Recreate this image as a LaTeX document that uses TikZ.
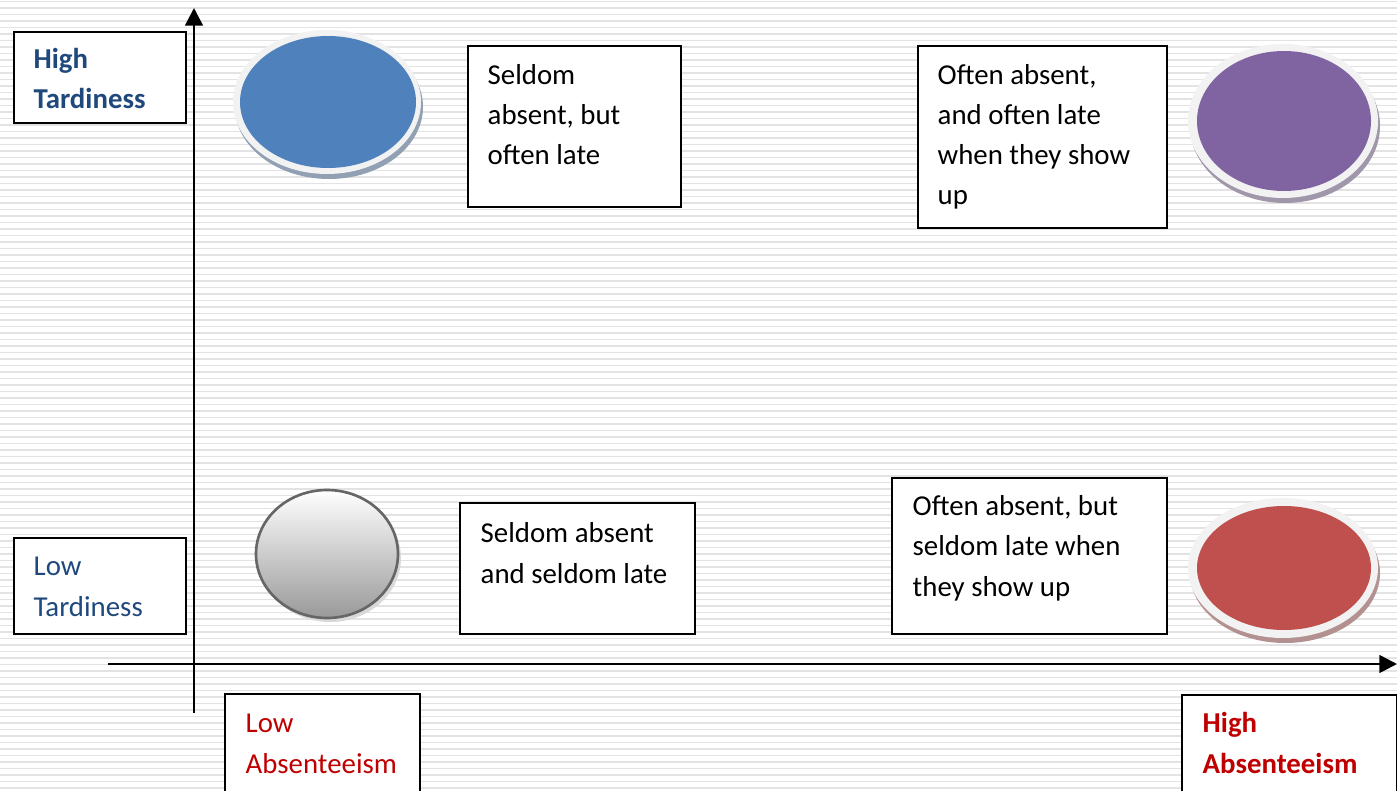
\documentclass[tikz,border=0pt]{standalone}
\usepackage{fontspec}
\setmainfont{Carlito}
\usepackage{tikz}
\usetikzlibrary{arrows.meta,positioning,calc}
\definecolor{tardblue}{RGB}{31,73,125}
\definecolor{absred}{RGB}{192,0,0}
\definecolor{ringgray}{RGB}{242,242,242}
\definecolor{discblue}{RGB}{79,129,189}
\definecolor{discpurple}{RGB}{128,100,162}
\definecolor{discred}{RGB}{192,80,77}
\definecolor{discedge}{RGB}{102,102,102}

\tikzset{
  box/.style={draw=black, line width=0.6pt, fill=white, inner sep=0pt, anchor=north west},
  lbl/.style={inner sep=0pt, anchor=base west, align=left, font=\fontsize{8.2}{11.4}\selectfont},
  axis/.style={line width=0.75pt, -{Triangle[length=5pt,width=5pt]}},
  stripe/.style={gray!22, line width=0.5pt},
}

\begin{document}
\begin{tikzpicture}[x=0.01cm,y=-0.01cm]

\clip (0,0) rectangle (1397,791);
\fill[white] (0,0) rectangle (1397,791);

% fond
\foreach \s in {1.5,8,...,791}
  \draw[stripe] (0,\s) -- (1397,\s);

% disques
\foreach \cx/\cy/\rx/\ry/\ix/\iy/\col in {327/102/94/72/88/66/discblue,
    1283/121/95/77/87/70/discpurple, 1283/568/95/70/87/62/discred}{
  \fill[\col!40!gray!75!white] (\cx+2,\cy+5) ellipse [x radius=\rx, y radius=\ry];
  \fill[ringgray] (\cx,\cy) ellipse [x radius=\rx, y radius=\ry];
  \fill[\col] (\cx+1,\cy) ellipse [x radius=\ix, y radius=\iy];
}
\fill[gray!30] (330,558) ellipse [x radius=71, y radius=64];
\path[top color=white, bottom color=gray!80, draw=discedge, line width=0.75pt]
  (327,554) ellipse [x radius=71, y radius=64];

% tardiness (base = last line)
\node[box, minimum width=1.72cm, minimum height=0.91cm] (hiT) at (13,31) {};
\node[lbl, text=tardblue, font=\fontsize{8.2}{11.4}\selectfont\bfseries] (hiTtxt)
  at ($(hiT.north west)+(20,78)$) {High\\Tardiness};
\node[box, minimum width=1.72cm, minimum height=0.96cm] (loT) at (13,537) {};
\node[lbl, text=tardblue] (loTtxt) at ($(loT.north west)+(20,79)$) {Low\\Tardiness};

% absenteeism
\node[box, minimum width=1.95cm, minimum height=1.2cm] (loA) at (224,693) {};
\node[lbl, text=absred] (loAtxt) at ($(loA.north west)+(21,80)$) {Low\\Absenteeism};
\node[box, minimum width=2.15cm, minimum height=1.2cm] (hiA) at (1181,694) {};
\node[lbl, text=absred, font=\fontsize{8.2}{11.4}\selectfont\bfseries] (hiAtxt)
  at ($(hiA.north west)+(21,79)$) {High\\Absenteeism};

% quadrants
\node[box, minimum width=2.13cm, minimum height=1.61cm] (sAoL) at (467,45) {};
\node[lbl] (sAoLtxt) at ($(sAoL.north west)+(20,120)$) {Seldom\\absent, but\\often late};
\node[box, minimum width=2.49cm, minimum height=1.82cm] (oAoL) at (917,45) {};
\node[lbl] (oAoLtxt) at ($(oAoL.north west)+(20,160)$) {Often absent,\\and often late\\when they show\\up};
\node[box, minimum width=2.35cm, minimum height=1.31cm] (sAsL) at (459,502) {};
\node[lbl] (sAsLtxt) at ($(sAsL.north west)+(21,81)$) {Seldom absent\\and seldom late};
\node[box, minimum width=2.75cm, minimum height=1.56cm] (oAsL) at (891,477) {};
\node[lbl] (oAsLtxt) at ($(oAsL.north west)+(21,119)$) {Often absent, but\\seldom late when\\they show up};

% axes
\coordinate (ybot) at (194,713);
\coordinate (ytop) at (194,8);
\coordinate (xleft) at (108,664);
\coordinate (xright) at (1397,664);
\draw[axis] (ybot) -- (ytop);
\draw[axis] (xleft) -- (xright);

\end{tikzpicture}
\end{document}
